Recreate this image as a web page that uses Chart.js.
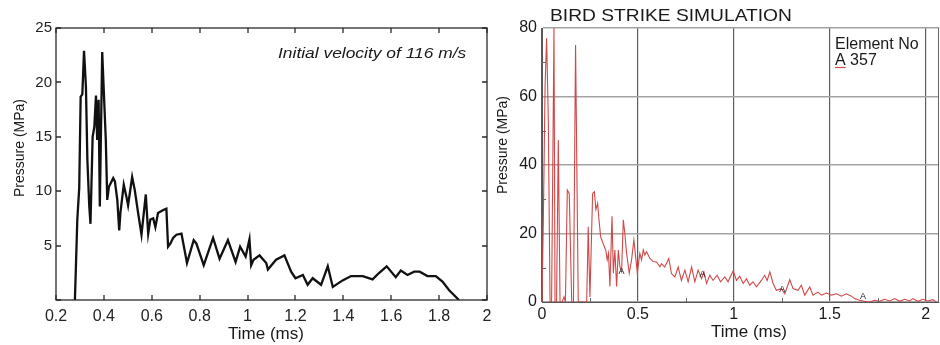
<!DOCTYPE html>
<html><head><meta charset="utf-8">
<script src="https://cdn.jsdelivr.net/npm/chart.js@4"></script>
<style>
html,body{margin:0;padding:0;background:#fff;}
#wrap{position:relative;width:940px;height:345px;overflow:hidden;background:#fff;}
canvas{position:absolute;top:0;}
#c1{left:0;} #c2{left:490px;}
</style></head><body>
<div id="wrap"><canvas id="c1" width="500" height="345"></canvas><canvas id="c2" width="450" height="345"></canvas></div>
<script>
// ---------- Left chart data (Initial velocity of 116 m/s) ----------
const leftTime = [
 0.279,0.289,0.297,0.303,0.310,0.317,0.325,0.331,0.339,0.344,
 0.353,0.360,0.367,0.372,0.378,0.383,0.393,0.400,0.408,0.414,
 0.421,0.439,0.446,0.456,0.464,0.469,0.483,0.494,0.501,0.518,
 0.529,0.543,0.557,0.575,0.585,0.594,0.606,0.615,0.626,0.650,
 0.661,0.668,0.678,0.689,0.703,0.724,0.747,0.775,0.786,0.817,
 0.856,0.883,0.918,0.950,0.969,0.992,1.008,1.015,1.025,1.050,
 1.078,1.085,1.119,1.154,1.182,1.200,1.231,1.251,1.272,1.307,
 1.335,1.356,1.397,1.432,1.481,1.522,1.550,1.581,1.619,1.640,
 1.668,1.696,1.719,1.751,1.786,1.814,1.842,1.883];
const leftPressure = [
 0,7.4,10.3,18.7,18.9,22.9,19.6,12.9,8.6,7.0,
 15,15.9,18.8,14.7,18.4,8.6,22.8,19,14.7,9.2,
 10.4,11.2,10.9,9.2,6.4,8,10.6,9.5,8.7,11.3,
 10.1,8,6.0,9.7,6.1,7.4,7.5,6.7,8.0,8.3,
 8.4,4.9,5.2,5.7,6.0,6.1,3.4,5.5,5.2,3.2,
 5.7,3.8,5.5,3.5,4.9,4.0,5.6,3.2,3.7,4.1,
 3.4,2.8,3.7,4.1,2.6,2.0,2.3,1.4,2.0,1.4,
 3.1,1.2,1.8,2.2,2.2,1.9,2.5,3.1,2.1,2.7,
 2.3,2.6,2.6,2.2,2.2,1.7,0.9,0];
const leftTitle = 'Initial velocity of 116 m/s';

// ---------- Right chart data (BIRD STRIKE SIMULATION, element 357) ----------
const rightTime = [
 0,0.007,0.016,0.024,0.033,0.042,0.050,0.0625,0.068,0.076,
 0.085,0.094,0.105,0.115,0.122,0.132,0.142,0.155,0.164,0.175,
 0.189,0.233,0.241,0.250,0.264,0.273,0.281,0.290,0.297,0.306,
 0.319,0.333,0.340,0.347,0.354,0.365,0.372,0.380,0.389,0.398,
 0.406,0.415,0.424,0.432,0.441,0.455,0.467,0.479,0.490,0.497,
 0.510,0.519,0.528,0.536,0.545,0.5625,0.580,0.597,0.615,0.623,
 0.640,0.661,0.675,0.693,0.710,0.727,0.745,0.762,0.780,0.797,
 0.814,0.832,0.844,0.858,0.875,0.892,0.913,0.931,0.953,0.970,
 0.997,1.014,1.031,1.049,1.066,1.083,1.100,1.118,1.144,1.161,
 1.174,1.188,1.205,1.222,1.248,1.266,1.292,1.309,1.335,1.352,
 1.370,1.396,1.413,1.439,1.457,1.483,1.509,1.535,1.561,1.587,
 1.613,1.630,1.656,1.682,1.708,1.734,1.760,1.786,1.813,1.839,
 1.865,1.891,1.917,1.934,1.960,1.986,2.012,2.038,2.056];
const rightPressure = [
 0,23.9,62.9,77,53,0,0,80,0,0,
 47.3,0,0,1.5,0,32.7,31.7,0,0,75,
 0,0,22,1.5,31.7,32.2,27,28.8,24,19,
 17,15,12.3,14.2,4.5,25,8.4,15.2,4.5,15.2,
 10.3,8.9,24,20,14.2,8.4,12.3,18.1,12.3,8.4,
 14.2,12.3,15.2,13.7,14.7,12.7,11.8,11.7,10.3,11.2,
 10.2,12.7,8.3,7.3,10.2,6.3,9.3,5.9,10.2,5.9,
 9.3,6.8,8.8,5.4,7.8,6.3,7.8,5.9,7.3,5.9,
 9.1,6.3,7.5,5.4,6.8,4.9,5.9,4.4,6.3,7.8,
 6.3,8.8,5.4,3.4,3.9,2.4,6.5,3.9,3.4,4.9,
 2.0,4.4,2.0,2.9,2.0,2.6,2.0,2.4,1.7,2.4,
 1.7,1.0,0.5,0.2,0,0.5,0.2,0.8,0.3,1.0,
 0.2,0.8,0.3,1.0,0.2,0.8,0.3,0.7,0];
const markerTime = [0.415,0.837,1.253,1.674];
const markerPressure = [8.8,8.1,3.6,1.5];
const rightTitle = 'BIRD STRIKE SIMULATION';
const legendTitle = 'Element No';
const legendLetter = 'A';
const legendElement = '357';
const xTitle = 'Time (ms)';
const yTitle = 'Pressure (MPa)';

const F = '"Liberation Sans", Arial, Helvetica, sans-serif';

function textPlugin(id, items){
  return {id, afterDraw(chart){
    const ctx = chart.ctx;
    items.forEach(it=>{
      ctx.save();
      ctx.font = it.font; ctx.fillStyle = it.color || '#1a1a1a';
      ctx.textAlign = it.align || 'left'; ctx.textBaseline = 'middle';
      ctx.translate(it.x, it.y);
      if (it.rot) ctx.rotate(it.rot);
      if (it.sx) ctx.scale(it.sx, 1);
      ctx.fillText(it.text, 0, 0);
      ctx.restore();
    });
  }};
}

// inward-tick frame for the left chart
const frameTicks = {id:'frameTicks', afterDraw(chart){
  const {ctx, chartArea:a, scales:{x,y}} = chart;
  ctx.save();
  ctx.strokeStyle = '#2a2a2a'; ctx.lineWidth = 1.3;
  ctx.strokeRect(a.left, a.top, a.right-a.left, a.bottom-a.top);
  ctx.beginPath();
  x.ticks.forEach(t=>{
    const p = Math.round(x.getPixelForValue(t.value));
    ctx.moveTo(p, a.top); ctx.lineTo(p, a.top+5);
    ctx.moveTo(p, a.bottom); ctx.lineTo(p, a.bottom-5);
  });
  y.ticks.forEach(t=>{
    const p = Math.round(y.getPixelForValue(t.value));
    ctx.moveTo(a.left, p); ctx.lineTo(a.left+5, p);
    ctx.moveTo(a.right, p); ctx.lineTo(a.right-5, p);
  });
  ctx.stroke();
  ctx.restore();
}};

new Chart(document.getElementById('c1'), {
  type:'line',
  data:{datasets:[{
    data: leftTime.map((t,i)=>({x:t, y:leftPressure[i]})),
    borderColor:'#111', borderWidth:2.3, pointRadius:0, tension:0, fill:false
  }]},
  options:{
    responsive:false, animation:false, devicePixelRatio:1,
    layout:{padding:{left:0, top:28, right:13, bottom:0}},
    plugins:{legend:{display:false}, tooltip:{enabled:false}},
    scales:{
      x:{type:'linear', min:0.2, max:2,
        ticks:{stepSize:0.2, autoSkip:false, maxRotation:0, color:'#222', padding:7,
               font:{family:F, size:16}, callback:v=>String(+v.toFixed(1))},
        grid:{display:false, drawTicks:false}, border:{display:false},
        afterFit(s){ s.height = 45; }},
      y:{min:0, max:25,
        ticks:{stepSize:5, color:'#222', padding:4, font:{family:F, size:15},
               callback:v=> v===0 ? '' : String(v)},
        grid:{display:false, drawTicks:false}, border:{display:false},
        afterFit(s){ s.width = 56; }}
    }
  },
  plugins:[frameTicks, textPlugin('txtL', [
    {text:leftTitle, x:278, y:54, font:'italic 15px '+F, sx:1.16},
    {text:yTitle, x:20, y:148, font:'14px '+F, align:'center', rot:-Math.PI/2},
    {text:xTitle, x:266, y:334, font:'17px '+F, align:'center'}
  ])]
});

// right chart extras: frame edge, minor ticks, "A" markers, legend
const rightExtras = {id:'rightExtras', afterDraw(chart){
  const {ctx, chartArea:a, scales:{x,y}} = chart;
  ctx.save();
  ctx.strokeStyle = '#666'; ctx.lineWidth = 1;
  ctx.beginPath();
  ctx.moveTo(a.right-0.5, a.top); ctx.lineTo(a.right-0.5, a.bottom);
  [0.25,0.75,1.25,1.75].forEach(v=>{
    const p = Math.round(x.getPixelForValue(v))+0.5;
    ctx.moveTo(p, a.bottom); ctx.lineTo(p, a.bottom-4);
  });
  [10,30,50,70].forEach(v=>{
    const p = Math.round(y.getPixelForValue(v))+0.5;
    ctx.moveTo(a.left, p); ctx.lineTo(a.left+4, p);
  });
  ctx.stroke();
  ctx.font = '9px '+F; ctx.fillStyle = '#222'; ctx.textAlign='center'; ctx.textBaseline='middle';
  markerTime.forEach((t,i)=>{
    ctx.fillText('A', x.getPixelForValue(t), y.getPixelForValue(markerPressure[i]));
  });
  ctx.font = '16px '+F; ctx.textAlign='left'; ctx.fillStyle='#1a1a1a';
  ctx.fillText(legendTitle, 345, 45);
  ctx.fillText(legendLetter+' '+legendElement, 345, 61);
  const w = ctx.measureText(legendLetter).width;
  ctx.strokeStyle = '#d24b4b'; ctx.lineWidth = 1.2;
  ctx.beginPath(); ctx.moveTo(345, 67.5); ctx.lineTo(345+w, 67.5); ctx.stroke();
  ctx.restore();
}};

new Chart(document.getElementById('c2'), {
  type:'line',
  data:{datasets:[{
    data: rightTime.map((t,i)=>({x:t, y:rightPressure[i]})),
    borderColor:'#d04848', borderWidth:1.1, pointRadius:0, tension:0, fill:false
  }]},
  options:{
    responsive:false, animation:false, devicePixelRatio:1,
    layout:{padding:{left:0, top:28, right:1, bottom:0}},
    plugins:{legend:{display:false}, tooltip:{enabled:false}},
    scales:{
      x:{type:'linear', min:0, max:2.07,
        ticks:{stepSize:0.5, includeBounds:false, autoSkip:false, maxRotation:0, color:'#1a1a1a', padding:3,
               font:{family:F, size:16}, callback:v=>String(v)},
        grid:{color:'#5e5e5e', lineWidth:1.2, drawTicks:false}, border:{color:'#555'},
        afterFit(s){ s.height = 43; }},
      y:{min:0, max:80,
        ticks:{stepSize:20, color:'#1a1a1a', padding:5, font:{family:F, size:16}},
        grid:{color:'#a3a3a3', lineWidth:1.5, drawTicks:false}, border:{color:'#555'},
        afterFit(s){ s.width = 52; }}
    }
  },
  plugins:[rightExtras, textPlugin('txtR', [
    {text:rightTitle, x:60, y:16, font:'17px '+F, sx:1.13},
    {text:yTitle, x:13, y:145, font:'14px '+F, align:'center', rot:-Math.PI/2},
    {text:xTitle, x:259, y:332, font:'17px '+F, align:'center'}
  ])]
});
</script>
</body></html>
